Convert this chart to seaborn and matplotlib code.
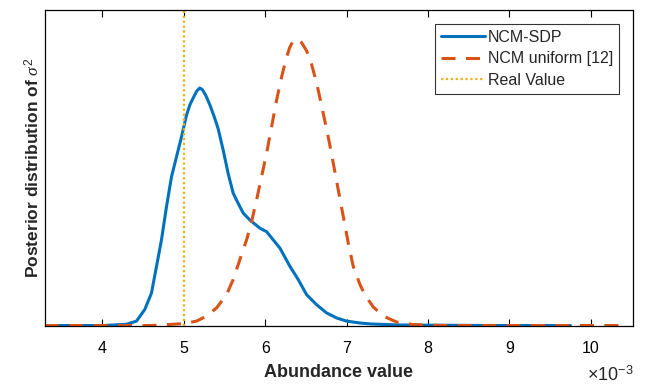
import numpy as np
import pandas as pd
import matplotlib
matplotlib.use("Agg")
import matplotlib.pyplot as plt
import seaborn as sns

# Data (x in units of 1e-3)
sdp_x = [3.29, 4.000, 4.295, 4.418, 4.520, 4.602, 4.664, 4.725, 4.787, 4.848, 4.910, 4.971,
         5.033, 5.073, 5.114, 5.160, 5.196, 5.230, 5.270, 5.320, 5.370, 5.421, 5.483, 5.544,
         5.606, 5.667, 5.729, 5.811, 5.934, 6.016, 6.098, 6.180, 6.303, 6.405, 6.508, 6.631,
         6.754, 6.877, 7.000, 7.164, 7.300, 7.615, 8.000, 9.000, 9.75]
sdp_y = [0.0, 0.0, 0.004, 0.014, 0.051, 0.103, 0.188, 0.272, 0.378, 0.472, 0.536, 0.599,
         0.668, 0.700, 0.722, 0.745, 0.754, 0.748, 0.730, 0.700, 0.665, 0.625, 0.557, 0.483,
         0.420, 0.388, 0.357, 0.335, 0.309, 0.298, 0.272, 0.246, 0.188, 0.146, 0.098, 0.066,
         0.040, 0.024, 0.014, 0.008, 0.005, 0.002, 0.001, 0.0, 0.0]

uni_x = [3.29, 4.000, 4.600, 4.991, 5.156, 5.279, 5.402, 5.525, 5.606, 5.688, 5.771, 5.832,
         5.894, 5.955, 6.016, 6.078, 6.139, 6.201, 6.262, 6.303, 6.340, 6.377, 6.410, 6.447,
         6.508, 6.560, 6.610, 6.651, 6.713, 6.774, 6.836, 6.897, 6.959, 7.020, 7.081,
         7.164, 7.230, 7.327, 7.450, 7.615, 7.819, 8.200, 9.000, 10.40]
uni_y = [0.0, 0.0, 0.0, 0.006, 0.014, 0.030, 0.056, 0.098, 0.146, 0.209, 0.272, 0.330,
         0.399, 0.473, 0.546, 0.631, 0.715, 0.789, 0.852, 0.884, 0.902, 0.908, 0.907, 0.898,
         0.872, 0.838, 0.790, 0.747, 0.673, 0.599, 0.515, 0.431, 0.346, 0.262, 0.188,
         0.130, 0.095, 0.059, 0.030, 0.011, 0.003, 0.0, 0.0, 0.0]

real_value = 5.0
xticks = [4, 5, 6, 7, 8, 9, 10]

sns.set_style("white")
plt.rcParams['font.family'] = ['Liberation Sans', 'DejaVu Sans']
plt.rcParams['mathtext.fontset'] = 'custom'
plt.rcParams['mathtext.rm'] = 'Liberation Sans'
plt.rcParams['mathtext.it'] = 'Liberation Serif:italic'

blue = '#0072BD'
orange = '#D95319'
yellow = '#EDB120'

fig = plt.figure(figsize=(6.46, 3.88), dpi=100)
ax = fig.add_axes([0.0692, 0.161, 0.9108, 0.812])

df_sdp = pd.DataFrame({'x': sdp_x, 'y': sdp_y})
df_uni = pd.DataFrame({'x': uni_x, 'y': uni_y})

sns.lineplot(data=df_sdp, x='x', y='y', ax=ax, color=blue, lw=2.2, label='NCM-SDP',
             sort=False, estimator=None)
sns.lineplot(data=df_uni, x='x', y='y', ax=ax, color=orange, lw=2.2, label='NCM uniform [12]',
             sort=False, estimator=None)
ax.lines[-1].set_dashes((4.6, 3.4))
ax.axvline(real_value, color=yellow, lw=1.6, ls=(0, (1, 1.2)), label='Real Value')

ax.set_xlim(3.29, 10.52)
ax.set_ylim(0, 1.0)
ax.set_xticks(xticks)
ax.set_xticklabels([str(t) for t in xticks])
ax.set_yticks([])
ax.tick_params(axis='x', direction='in', length=5, width=0.8, top=True, bottom=True,
               labelsize=11.5, pad=11, colors='black')
for s in ax.spines.values():
    s.set_visible(True)
    s.set_color('black')
    s.set_linewidth(0.9)

ax.set_xlabel('Abundance value', fontsize=13, fontweight='bold', labelpad=6)
ax.set_ylabel(r'Posterior distribution of $\sigma^2$', fontsize=12.5, fontweight='bold', labelpad=2)
ax.text(1.0, -0.157, r'$\times$10$^{-3}$', transform=ax.transAxes, ha='right', va='center', fontsize=13)

leg = ax.legend(loc='upper right', bbox_to_anchor=(0.976, 0.957), fontsize=11.5, frameon=True,
                fancybox=False, edgecolor='black', handlelength=2.75, handletextpad=0.2,
                labelspacing=0.42, borderpad=0.35, borderaxespad=0)
leg.get_frame().set_linewidth(0.8)

fig.savefig('out.png', dpi=100)
